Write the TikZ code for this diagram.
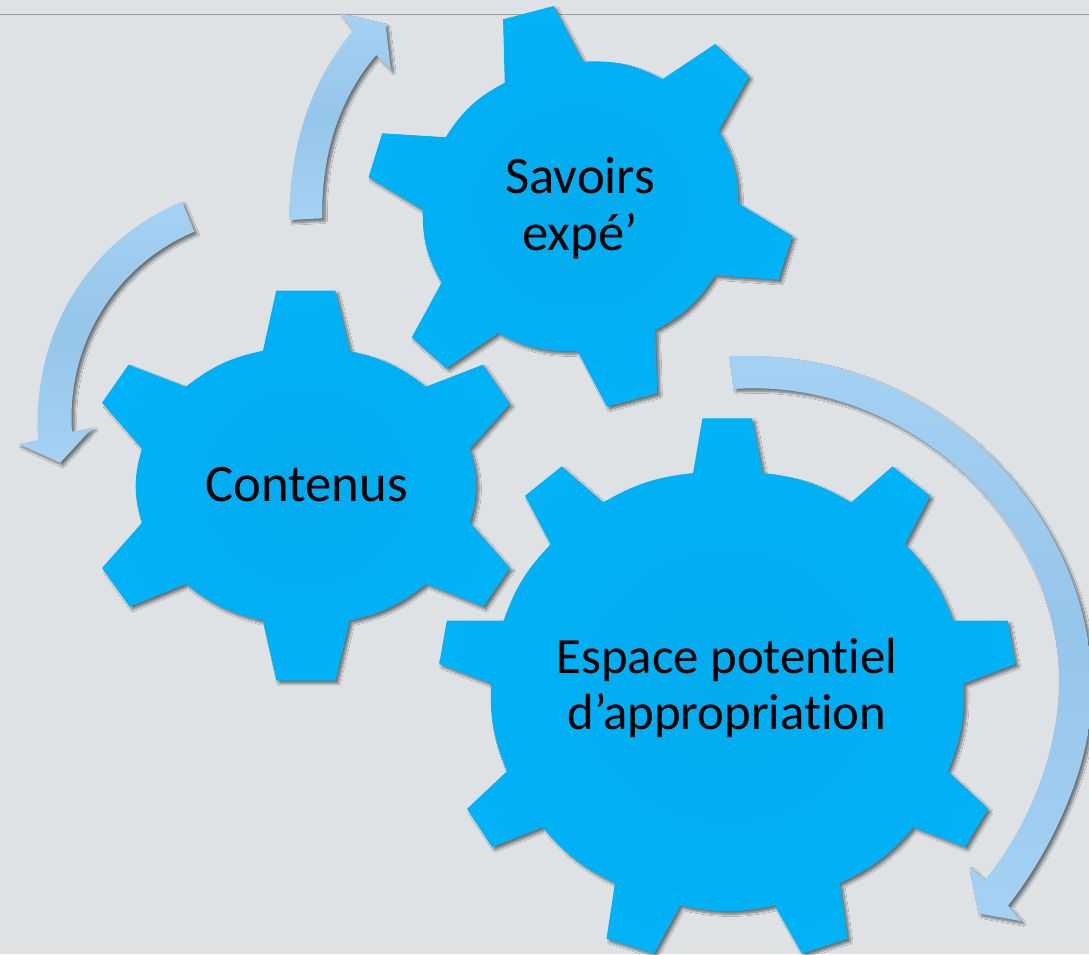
\documentclass[tikz,border=0pt]{standalone}
\usepackage{fontspec}
\setmainfont[Ligatures=NoCommon]{Carlito}
\usetikzlibrary{shadows.blur}
\definecolor{slidebg}{HTML}{DEE2E5}
\definecolor{slideline}{HTML}{9A9EA0}
\definecolor{gearout}{HTML}{01B2F6}
\definecolor{gearin}{HTML}{02ABEE}
\definecolor{arrowend}{HTML}{A5D2F3}
\definecolor{arrowmid}{HTML}{95C5E9}
\tikzset{
  softshadow/.style={blur shadow={shadow xshift=1.6pt,shadow yshift=-1.6pt,shadow blur radius=1.3pt,shadow blur steps=10,shadow opacity=50}},
  gear/.style={softshadow,inner color=gearin,outer color=gearout},
  blockarrow/.style={softshadow,top color=arrowend,bottom color=arrowend,middle color=arrowmid},
  gearlabel/.style={align=center,text=black,font=\fontsize{30}{32.5}\selectfont}
}
\begin{document}
\begin{tikzpicture}[x=0.02cm,y=-0.02cm]
\useasboundingbox (0,0) rectangle (1089,954);
\clip (0,0) rectangle (1089,954);
% Slide
\fill[slidebg] (0,0) rectangle (1089,954);
\draw[slideline,line width=1.1pt] (0,14.5) -- (1089,14.5);

% Arrows
\shade[blockarrow] (289.5,220) .. controls (289,140) and (315,75) .. (353.7,30)
  -- (340.9,13.3) -- (385.5,24) -- (390.9,70) -- (376.3,55)
  .. controls (342,95) and (321,150) .. (322.3,218.3) -- cycle;
\shade[blockarrow] (181.9,201.7) .. controls (90,240) and (32,330) .. (37.9,440)
  -- (18.6,444) -- (60.2,462.7) -- (93,427.3) -- (72,431.7)
  .. controls (66,345) and (115,265) .. (194.4,231.7) -- cycle;
\shade[blockarrow] (729.3,356.4) .. controls (925,345) and (1092,506) .. (1092,690)
  .. controls (1092,770) and (1048,855) .. (1008,905.6)
  -- (1021.4,921.2) -- (978.6,913.4) -- (969.3,866.4) -- (984.8,880)
  .. controls (1030,825) and (1059,750) .. (1059,680)
  .. controls (1059,520) and (905,377) .. (733.5,389) -- cycle;

% Gears
\shade[gear] (503.1,19.3) -- (553.8,6) -- (583.2,61.7) to[bend left=15] (662.7,79)
  -- (715.1,44) -- (749.2,76) -- (718.8,130.7) to[bend left=15] (738.4,203.3)
  -- (792.5,236) -- (778.6,280) -- (715.1,275.3) to[bend left=15] (655.3,330)
  -- (657.3,393.3) -- (606.9,406.7) -- (577.5,351) to[bend left=15] (498,333.3)
  -- (446.3,368.3) -- (411.8,337.3) -- (441.6,282.7) to[bend left=15] (422.7,210)
  -- (368.6,177.3) -- (382.1,133.3) -- (445.7,137.3) to[bend left=15] (504.8,82.7) -- cycle;
\shade[gear] (276.2,290.7) -- (335.4,290.7) -- (350.2,351.3) to[bend left=13] (426,386.7)
  -- (482.8,364.7) -- (509.8,404) -- (469.9,448.7) to[bend left=17] (469.9,522.7)
  -- (509.8,568) -- (483.4,606.7) -- (426,584) to[bend left=13] (349.6,620.7)
  -- (335.4,680.7) -- (276.5,680.7) -- (263,620.7) to[bend left=13] (185.9,584)
  -- (129.8,606.7) -- (102.1,568) -- (142,522.7) to[bend left=17] (142,448.7)
  -- (102.1,402.7) -- (128.5,364.7) -- (185.9,386.7) to[bend left=13] (263,350.7) -- cycle;
\shade[gear] (702.4,418.3) -- (752,418.3) -- (762.9,473.1) to[bend left=12] (851.2,502.4)
  -- (892.4,466.4) -- (930.2,495.8) -- (905,544.3) to[bend left=12] (952.9,620.6)
  -- (1007.6,620.6) -- (1015.5,664.1) -- (963.8,683.6) to[bend left=12] (947.9,771.3)
  -- (988.2,808.9) -- (965.1,847.2) -- (913.4,827.3) to[bend left=12] (839.8,883.2)
  -- (847.8,938.8) -- (802,953.7) -- (774.7,905.6) to[bend left=12] (680.1,905.6)
  -- (654,953.7) -- (606.5,938.8) -- (615,883.2) to[bend left=12] (542.7,827.3)
  -- (492.2,847.2) -- (467,808.9) -- (506.9,771.3) to[bend left=12] (490.9,683.6)
  -- (439.2,664.1) -- (446.8,620.6) -- (503.6,620.6) to[bend left=12] (550.6,544.3)
  -- (525,495.8) -- (561.6,466.4) -- (603.2,502.4) to[bend left=12] (693.1,473.1) -- cycle;

% Labels
\node[gearlabel] (savoirs) at (580,208) {Savoirs\\expé’};
\node[gearlabel] (contenus) at (306.5,485) {Contenus};
\node[gearlabel,font=\fontsize{28.9}{31.6}\selectfont] (espace) at (727,688) {Espace potentiel\\d’appropriation};
\end{tikzpicture}
\end{document}
